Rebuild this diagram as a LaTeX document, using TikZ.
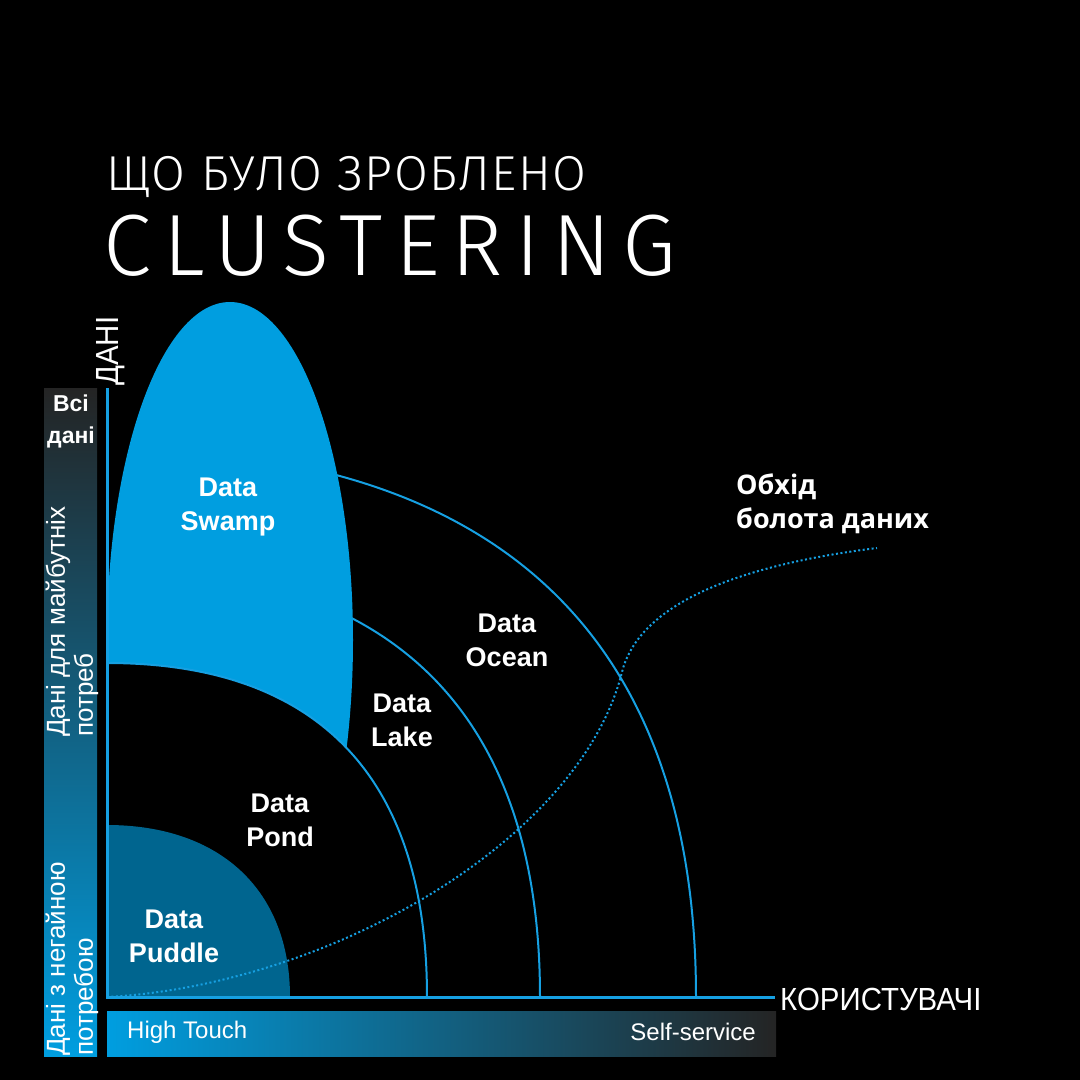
\documentclass[tikz,border=0pt]{standalone}
\usepackage{fontspec}
\setmainfont{Liberation Sans}
\newfontfamily\titlefont[LetterSpace=3]{Fira Sans Light}
\newfontfamily\titlewide[LetterSpace=14]{Fira Sans Light}
\newfontfamily\notefont{Open Sans}
\newfontfamily\narrowfont[FakeStretch=0.92]{Liberation Sans}
\usetikzlibrary{positioning}
\definecolor{swampblue}{RGB}{0,158,224}
\definecolor{puddleblue}{RGB}{0,101,143}
\definecolor{lineblue}{RGB}{22,160,226}
\definecolor{bargray}{RGB}{36,36,36}
\tikzset{
  zone label/.style={
    text=white,
    inner sep=0pt,
    align=center,
    font=\bfseries\fontsize{27}{34}\selectfont
  },
  zone line/.style={draw=lineblue, line width=2pt},
  axis line/.style={draw=lineblue, line width=3pt},
  path line/.style={draw=lineblue, line width=2pt, dash pattern=on 2pt off 2.5pt},
  bar text/.style={text=white, inner sep=0pt, font=\fontsize{24}{28}\selectfont},
  side text/.style={
    text=white,
    inner sep=0pt,
    rotate=90,
    anchor=west,
    align=left,
    font=\fontsize{26}{28}\selectfont
  },
  axis label/.style={text=white, inner sep=0pt, font=\narrowfont\fontsize{32}{36}\selectfont}
}

\begin{document}
\begin{tikzpicture}[x=1pt,y=-1pt]
  % canvas
  \fill[black] (0,0) rectangle (1080,1080);
  \useasboundingbox (0,0) rectangle (1080,1080);

  % title
  \node[anchor=base west, inner sep=0pt, text=white, font=\titlefont\fontsize{49}{52}\selectfont] (subtitle) at (106,190) {ЩО БУЛО ЗРОБЛЕНО};
  \node[anchor=base west, inner sep=0pt, text=white, font=\titlewide\fontsize{87}{90}\selectfont] (title) at (103,275) {CLUSTERING};

  % outer zones (start hidden under the swamp)
  \begin{scope}
    \clip (200,0) rectangle (1080,1080);
    \draw[zone line] (107,448) .. controls (496,448) and (696,635) .. (696,997);
    \draw[zone line] (107,567) .. controls (393,567) and (540,713) .. (540,997);
  \end{scope}
  \fill[swampblue] (230,640) ellipse [x radius=123, y radius=338];

  % inner zones
  \fill[black] (107,997) -- (107,663) .. controls (318,663) and (427,777) .. (427,997) -- cycle;
  \draw[zone line] (107,663) .. controls (318,663) and (427,777) .. (427,997);
  \fill[puddleblue] (107,997) -- (107,825) .. controls (220,825) and (290,890) .. (290,997) -- cycle;

  % axes
  \coordinate (origin) at (107,997);
  \coordinate (ytip) at (107,388);
  \coordinate (xtip) at (775,997);
  \coordinate (bypassend) at (877,548);
  \draw[path line] (origin) .. controls (330,985) and (580,840) .. (622,672)
    .. controls (635,620) and (700,570) .. (bypassend);
  \draw[axis line] (ytip) -- (origin) -- (xtip);
  \node[axis label, rotate=90, anchor=base west] (ylabel) at (118,386) {ДАНІ};
  \node[axis label, anchor=base west] (xlabel) at (780,1010) {КОРИСТУВАЧІ};

  % zone labels
  \node[zone label] (swamp) at (228,507) {Data\\Swamp};
  \node[zone label] (ocean) at (507,640) {Data\\Ocean};
  \node[zone label] (lake) at (402,720) {Data\\Lake};
  \node[zone label] (pond) at (280,820) {Data\\Pond};
  \node[zone label] (puddle) at (174,936) {Data\\Puddle};
  \node[text=white, inner sep=0pt, align=left, anchor=west, font=\notefont\bfseries\fontsize{27}{34}\selectfont] (bypass) at (736,504) {Обхід\\болота даних};

  % side bar
  \shade[top color=bargray, middle color=swampblue!25!bargray, bottom color=swampblue] (44,388) rectangle (97,1056);
  \node[bar text, align=center, font=\bfseries\fontsize{23}{32}\selectfont] (alldata) at (71,421) {Всі\\дані};
  \node[side text] (futuredata) at (72,737) {Дані для майбутніх\\потреб};
  \node[side text] (nowdata) at (72,1056) {Дані з негайною\\потребою};

  % bottom bar
  \shade[left color=swampblue, middle color=swampblue!35!bargray, right color=bargray] (107,1011) rectangle (776,1056);
  \node[bar text, anchor=west] (hightouch) at (127,1032) {High Touch};
  \node[bar text, anchor=east] (selfservice) at (756,1032) {Self-service};
\end{tikzpicture}
\end{document}
